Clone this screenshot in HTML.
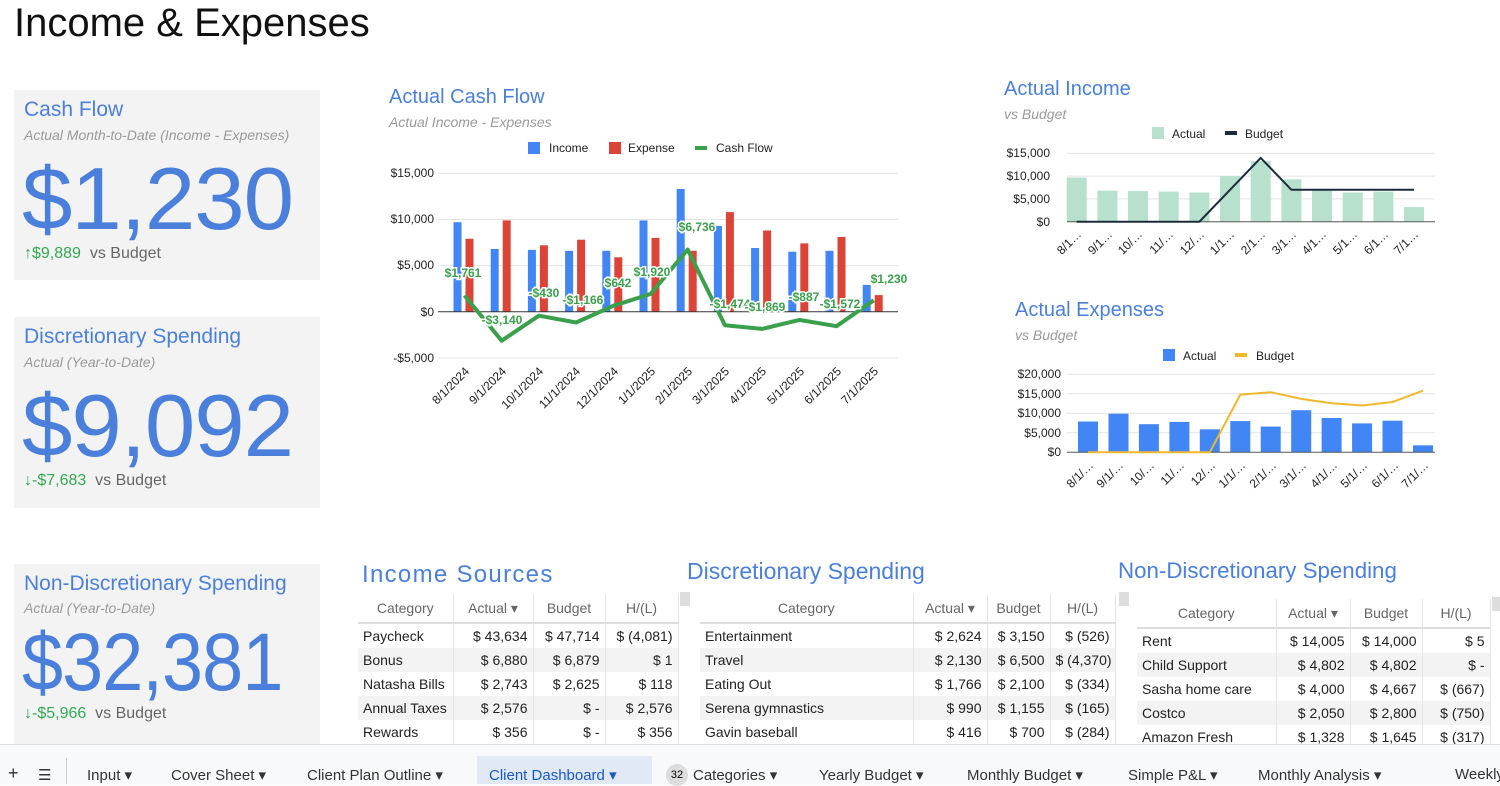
<!DOCTYPE html>
<html><head><meta charset="utf-8"><style>
body{margin:0;width:1500px;height:784px;overflow:hidden;background:#fff;font-family:"Liberation Sans",Arial,sans-serif;position:relative}
.a{position:absolute;white-space:nowrap}
.card{position:absolute;left:14px;width:306px;background:#f3f3f3}
.ct{position:absolute;left:10px;font-size:21px;color:#4a7fdc;white-space:nowrap}
.cs{position:absolute;left:10px;font-size:14px;color:#9a9a9a;font-style:italic;white-space:nowrap}
.cb{position:absolute;left:8px;font-size:88px;color:#4a7fdc;letter-spacing:-1px;white-space:nowrap;transform-origin:0 0}
.cf{position:absolute;left:10px;font-size:16px;color:#666;white-space:nowrap}
.cf b{font-weight:normal;color:#34a853}
table{position:absolute;border-collapse:collapse;font-size:14px;color:#222;table-layout:fixed}
td,th{height:24px;padding:0 5px;border-right:1px solid #e6e6e6;overflow:hidden;white-space:nowrap}
th{font-weight:normal;color:#666;height:28px;text-align:center;border-bottom:2px solid #ddd}
td{text-align:right}td:first-child{text-align:left}
tr:nth-child(odd) td{background:#f3f3f3}
.sb{position:absolute;width:10px;height:14px;background:#ddd}
.tt{position:absolute;font-size:23px;color:#4a7fdc;white-space:nowrap}
.tab{position:absolute;top:766px;font-size:15px;color:#333;white-space:nowrap}
</style></head><body>
<div class="a" style="left:14px;top:1px;font-size:40px;color:#111">Income &amp; Expenses</div>

<div class="card" style="top:90px;height:190px">
<div class="ct" style="top:8px">Cash Flow</div>
<div class="cs" style="top:37px">Actual Month-to-Date (Income - Expenses)</div>
<div class="cb" style="top:58px;transform:scaleX(1.03)">$1,230</div>
<div class="cf" style="top:155px"><b>↑$9,889</b>&nbsp; vs Budget</div></div>
<div class="card" style="top:317px;height:191px">
<div class="ct" style="top:8px">Discretionary Spending</div>
<div class="cs" style="top:37px">Actual (Year-to-Date)</div>
<div class="cb" style="top:58px;transform:scaleX(1.03)">$9,092</div>
<div class="cf" style="top:155px"><b>↓-$7,683</b>&nbsp; vs Budget</div></div>
<div class="card" style="top:564px;height:190px">
<div class="ct" style="top:8px">Non-Discretionary Spending</div>
<div class="cs" style="top:36px">Actual (Year-to-Date)</div>
<div class="cb" style="top:52px;font-size:82px;transform:scaleX(0.9)">$32,381</div>
<div class="cf" style="top:141px"><b>↓-$5,966</b>&nbsp; vs Budget</div></div>

<svg class="a" style="left:0;top:0" width="1500" height="560" font-family="Liberation Sans,Arial,sans-serif">
<text x="389" y="103" font-size="20" fill="#4a7fdc">Actual Cash Flow</text>
<text x="389" y="127" font-size="14" fill="#9a9a9a" font-style="italic">Actual Income - Expenses</text>
<rect x="528" y="142" width="12" height="12" fill="#4285f4"/><text x="549" y="152" font-size="12" fill="#222">Income</text>
<rect x="609" y="142" width="12" height="12" fill="#db4437"/><text x="628" y="152" font-size="12" fill="#222">Expense</text>
<rect x="695" y="146" width="12" height="4" fill="#3aa04c"/><text x="716" y="152" font-size="12" fill="#222">Cash Flow</text>
<g stroke="#e3e3e3"><line x1="438" x2="898" y1="173.3" y2="173.3"/><line x1="438" x2="898" y1="219.5" y2="219.5"/><line x1="438" x2="898" y1="265.6" y2="265.6"/><line x1="438" x2="898" y1="358" y2="358"/></g>
<g font-size="12" fill="#222" text-anchor="end"><text x="434" y="177">$15,000</text><text x="434" y="223">$10,000</text><text x="434" y="269">$5,000</text><text x="434" y="316">$0</text><text x="434" y="362">-$5,000</text></g>
<g fill="#4285f4">
<rect x="453.5" y="222.2" width="8" height="89.5"/><rect x="490.7" y="249" width="8" height="62.7"/><rect x="527.9" y="249.9" width="8" height="61.8"/><rect x="565.1" y="250.8" width="8" height="60.9"/><rect x="602.3" y="250.8" width="8" height="60.9"/><rect x="639.5" y="220.4" width="8" height="91.3"/><rect x="676.7" y="189" width="8" height="122.7"/><rect x="713.9" y="225.9" width="8" height="85.8"/><rect x="751.1" y="248" width="8" height="63.7"/><rect x="788.3" y="251.7" width="8" height="60"/><rect x="825.5" y="250.8" width="8" height="60.9"/><rect x="862.7" y="284.9" width="8" height="26.8"/></g>
<g fill="#db4437">
<rect x="465.5" y="238.8" width="8" height="72.9"/><rect x="502.7" y="220.4" width="8" height="91.3"/><rect x="539.9" y="245.3" width="8" height="66.4"/><rect x="577.1" y="239.7" width="8" height="72"/><rect x="614.3" y="257.3" width="8" height="54.4"/><rect x="651.5" y="237.9" width="8" height="73.8"/><rect x="688.7" y="250.8" width="8" height="60.9"/><rect x="725.9" y="212.1" width="8" height="99.6"/><rect x="763.1" y="230.5" width="8" height="81.2"/><rect x="800.3" y="243.4" width="8" height="68.3"/><rect x="837.5" y="237" width="8" height="74.7"/><rect x="874.7" y="295.1" width="8" height="16.6"/></g>
<line x1="438" x2="898" y1="311.7" y2="311.7" stroke="#333"/>
<polyline fill="none" stroke="#3aa04c" stroke-width="4" stroke-linejoin="round" points="464.5,295.5 501.7,340.7 538.9,315.7 576.1,322.5 613.3,305.8 650.5,294 687.7,249.6 724.9,325.3 762.1,328.9 799.3,319.9 836.5,326.2 873.7,300.3"/>
<g font-size="12" font-weight="bold" fill="#3aa04c" stroke="#fff" stroke-width="3" paint-order="stroke" text-anchor="middle">
<text x="463" y="277">$1,761</text><text x="502" y="324">-$3,140</text><text x="544" y="297">-$430</text><text x="583" y="304">-$1,166</text><text x="618" y="287">$642</text><text x="652" y="276">$1,920</text><text x="697" y="231">$6,736</text><text x="730" y="308">-$1,474</text><text x="765" y="311">-$1,869</text><text x="804" y="301">-$887</text><text x="840" y="308">-$1,572</text><text x="889" y="283">$1,230</text></g>
<g font-size="12" fill="#222" text-anchor="end">
<text transform="translate(470,372) rotate(-45)">8/1/2024</text><text transform="translate(507,372) rotate(-45)">9/1/2024</text><text transform="translate(544,372) rotate(-45)">10/1/2024</text><text transform="translate(581,372) rotate(-45)">11/1/2024</text><text transform="translate(619,372) rotate(-45)">12/1/2024</text><text transform="translate(656,372) rotate(-45)">1/1/2025</text><text transform="translate(693,372) rotate(-45)">2/1/2025</text><text transform="translate(730,372) rotate(-45)">3/1/2025</text><text transform="translate(767,372) rotate(-45)">4/1/2025</text><text transform="translate(805,372) rotate(-45)">5/1/2025</text><text transform="translate(842,372) rotate(-45)">6/1/2025</text><text transform="translate(879,372) rotate(-45)">7/1/2025</text></g>

<text x="1004" y="95" font-size="20" fill="#4a7fdc">Actual Income</text>
<text x="1004" y="119" font-size="14" fill="#9a9a9a" font-style="italic">vs Budget</text>
<rect x="1152" y="127" width="12" height="12" fill="#b7e1cd"/><text x="1172" y="138" font-size="12" fill="#222">Actual</text>
<rect x="1225" y="131" width="12" height="4" fill="#1c2b3a"/><text x="1245" y="138" font-size="12" fill="#222">Budget</text>
<g stroke="#e3e3e3"><line x1="1067" x2="1435" y1="153.3" y2="153.3"/><line x1="1067" x2="1435" y1="176.1" y2="176.1"/><line x1="1067" x2="1435" y1="198.9" y2="198.9"/></g>
<g font-size="12" fill="#222" text-anchor="end"><text x="1050" y="157">$15,000</text><text x="1050" y="180">$10,000</text><text x="1050" y="203">$5,000</text><text x="1050" y="226">$0</text></g>
<g fill="#b7e1cd">
<rect x="1066.7" y="177.5" width="20" height="44.2"/><rect x="1097.4" y="190.7" width="20" height="31"/><rect x="1128" y="191.1" width="20" height="30.6"/><rect x="1158.7" y="191.6" width="20" height="30.1"/><rect x="1189.4" y="192.5" width="20" height="29.2"/><rect x="1220" y="176.1" width="20" height="45.6"/><rect x="1250.7" y="161.1" width="20" height="60.6"/><rect x="1281.4" y="179.3" width="20" height="42.4"/><rect x="1312" y="190.2" width="20" height="31.5"/><rect x="1342.7" y="192.5" width="20" height="29.2"/><rect x="1373.4" y="191.6" width="20" height="30.1"/><rect x="1404" y="207.1" width="20" height="14.6"/></g>
<line x1="1067" x2="1435" y1="221.7" y2="221.7" stroke="#555"/>
<polyline fill="none" stroke="#1c2b3a" stroke-width="2" points="1076.7,221.7 1199.4,221.7 1260.7,157.9 1291.4,189.8 1414,189.8"/>
<g font-size="12" fill="#222" text-anchor="end">
<text transform="translate(1082,235) rotate(-45)">8/1…</text><text transform="translate(1113,235) rotate(-45)">9/1…</text><text transform="translate(1143,235) rotate(-45)">10/…</text><text transform="translate(1174,235) rotate(-45)">11/…</text><text transform="translate(1205,235) rotate(-45)">12/…</text><text transform="translate(1235,235) rotate(-45)">1/1…</text><text transform="translate(1266,235) rotate(-45)">2/1…</text><text transform="translate(1297,235) rotate(-45)">3/1…</text><text transform="translate(1327,235) rotate(-45)">4/1…</text><text transform="translate(1358,235) rotate(-45)">5/1…</text><text transform="translate(1389,235) rotate(-45)">6/1…</text><text transform="translate(1419,235) rotate(-45)">7/1…</text></g>

<text x="1015" y="316" font-size="20" fill="#4a7fdc">Actual Expenses</text>
<text x="1015" y="340" font-size="14" fill="#9a9a9a" font-style="italic">vs Budget</text>
<rect x="1163" y="349" width="12" height="12" fill="#4285f4"/><text x="1183" y="360" font-size="12" fill="#222">Actual</text>
<rect x="1235" y="353" width="12" height="4" fill="#f1b82d"/><text x="1256" y="360" font-size="12" fill="#222">Budget</text>
<g stroke="#e3e3e3"><line x1="1067" x2="1435" y1="374.3" y2="374.3"/><line x1="1067" x2="1435" y1="393.8" y2="393.8"/><line x1="1067" x2="1435" y1="413.3" y2="413.3"/><line x1="1067" x2="1435" y1="432.8" y2="432.8"/></g>
<g font-size="12" fill="#222" text-anchor="end"><text x="1061" y="378">$20,000</text><text x="1061" y="398">$15,000</text><text x="1061" y="417">$10,000</text><text x="1061" y="437">$5,000</text><text x="1061" y="456">$0</text></g>
<g fill="#4285f4">
<rect x="1078" y="421.5" width="20" height="30.8"/><rect x="1108.5" y="413.7" width="20" height="38.6"/><rect x="1138.9" y="424.2" width="20" height="28.1"/><rect x="1169.4" y="421.9" width="20" height="30.4"/><rect x="1199.8" y="429.3" width="20" height="23"/><rect x="1230.3" y="421.1" width="20" height="31.2"/><rect x="1260.7" y="426.6" width="20" height="25.7"/><rect x="1291.2" y="410.2" width="20" height="42.1"/><rect x="1321.6" y="418" width="20" height="34.3"/><rect x="1352.1" y="423.4" width="20" height="28.9"/><rect x="1382.5" y="420.7" width="20" height="31.6"/><rect x="1413" y="445.3" width="20" height="7"/></g>
<line x1="1067" x2="1435" y1="452.3" y2="452.3" stroke="#555"/>
<polyline fill="none" stroke="#f1b82d" stroke-width="2" points="1088,452.3 1209.8,452.3 1240.3,394.6 1270.7,392.2 1301.2,398.9 1331.6,403.2 1362.1,405.5 1392.5,402 1423,390.7"/>
<g font-size="12" fill="#222" text-anchor="end">
<text transform="translate(1094,466) rotate(-45)">8/1/…</text><text transform="translate(1124,466) rotate(-45)">9/1/…</text><text transform="translate(1155,466) rotate(-45)">10/…</text><text transform="translate(1185,466) rotate(-45)">11/…</text><text transform="translate(1216,466) rotate(-45)">12/…</text><text transform="translate(1246,466) rotate(-45)">1/1/…</text><text transform="translate(1277,466) rotate(-45)">2/1/…</text><text transform="translate(1307,466) rotate(-45)">3/1/…</text><text transform="translate(1338,466) rotate(-45)">4/1/…</text><text transform="translate(1368,466) rotate(-45)">5/1/…</text><text transform="translate(1399,466) rotate(-45)">6/1/…</text><text transform="translate(1429,466) rotate(-45)">7/1/…</text></g>
</svg>

<div class="tt" style="left:362px;top:561px;font-size:24px;letter-spacing:1.3px">Income Sources</div>
<div class="tt" style="left:687px;top:558px">Discretionary Spending</div>
<div class="tt" style="left:1118px;top:558px;font-size:22.3px">Non-Discretionary Spending</div>

<table style="left:358px;top:594px;width:320px">
<col style="width:95px"><col style="width:80px"><col style="width:72px"><col style="width:73px">
<tr><th>Category</th><th>Actual ▾</th><th>Budget</th><th>H/(L)</th></tr>
<tr><td>Paycheck</td><td>$ 43,634</td><td>$ 47,714</td><td>$ (4,081)</td></tr>
<tr><td>Bonus</td><td>$ 6,880</td><td>$ 6,879</td><td>$ 1</td></tr>
<tr><td>Natasha Bills</td><td>$ 2,743</td><td>$ 2,625</td><td>$ 118</td></tr>
<tr><td>Annual Taxes</td><td>$ 2,576</td><td>$ -</td><td>$ 2,576</td></tr>
<tr><td>Rewards</td><td>$ 356</td><td>$ -</td><td>$ 356</td></tr>
</table>
<div class="sb" style="left:680px;top:592px"></div>
<table style="left:700px;top:594px;width:415px">
<col style="width:213px"><col style="width:74px"><col style="width:63px"><col style="width:65px">
<tr><th>Category</th><th>Actual ▾</th><th>Budget</th><th>H/(L)</th></tr>
<tr><td>Entertainment</td><td>$ 2,624</td><td>$ 3,150</td><td>$ (526)</td></tr>
<tr><td>Travel</td><td>$ 2,130</td><td>$ 6,500</td><td>$ (4,370)</td></tr>
<tr><td>Eating Out</td><td>$ 1,766</td><td>$ 2,100</td><td>$ (334)</td></tr>
<tr><td>Serena gymnastics</td><td>$ 990</td><td>$ 1,155</td><td>$ (165)</td></tr>
<tr><td>Gavin baseball</td><td>$ 416</td><td>$ 700</td><td>$ (284)</td></tr>
</table>
<div class="sb" style="left:1119px;top:592px"></div>
<table style="left:1137px;top:599px;width:353px">
<col style="width:139px"><col style="width:74px"><col style="width:72px"><col style="width:68px">
<tr><th>Category</th><th>Actual ▾</th><th>Budget</th><th>H/(L)</th></tr>
<tr><td>Rent</td><td>$ 14,005</td><td>$ 14,000</td><td>$ 5</td></tr>
<tr><td>Child Support</td><td>$ 4,802</td><td>$ 4,802</td><td>$ -</td></tr>
<tr><td>Sasha home care</td><td>$ 4,000</td><td>$ 4,667</td><td>$ (667)</td></tr>
<tr><td>Costco</td><td>$ 2,050</td><td>$ 2,800</td><td>$ (750)</td></tr>
<tr><td>Amazon Fresh</td><td>$ 1,328</td><td>$ 1,645</td><td>$ (317)</td></tr>
</table>
<div class="sb" style="left:1492px;top:597px"></div>

<div class="a" style="left:0;top:744px;width:1500px;height:40px;background:#f8f9fa;border-top:1px solid #dadce0"></div>
<div class="a" style="left:477px;top:756px;width:175px;height:28px;background:#e1e9f7"></div>
<div class="tab" style="left:8px;font-size:18px;top:763px">+</div>
<div class="tab" style="left:38px">☰</div>
<div class="a" style="left:66px;top:758px;width:1px;height:26px;background:#ccc"></div>
<div class="tab" style="left:87px">Input ▾</div>
<div class="tab" style="left:171px">Cover Sheet ▾</div>
<div class="tab" style="left:307px">Client Plan Outline ▾</div>
<div class="tab" style="left:489px;color:#1a57c4">Client Dashboard ▾</div>
<div class="a" style="left:666px;top:764px;width:22px;height:22px;border-radius:11px;background:#ddd;font-size:11px;text-align:center;line-height:22px">32</div>
<div class="tab" style="left:693px">Categories ▾</div>
<div class="tab" style="left:819px">Yearly Budget ▾</div>
<div class="tab" style="left:967px">Monthly Budget ▾</div>
<div class="tab" style="left:1128px">Simple P&amp;L ▾</div>
<div class="tab" style="left:1258px">Monthly Analysis ▾</div>
<div class="tab" style="left:1455px">Weekly An</div>
</body></html>
